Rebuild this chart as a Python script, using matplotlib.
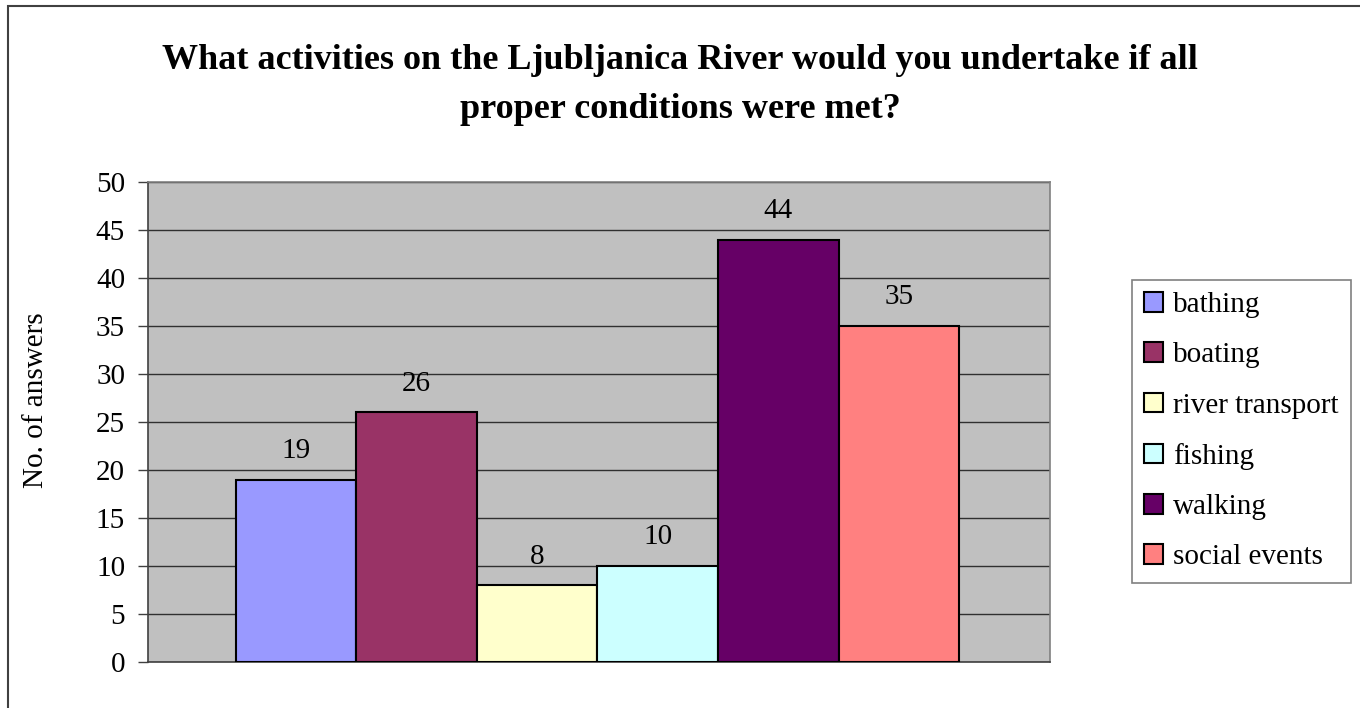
import matplotlib
matplotlib.use('Agg')
import matplotlib.pyplot as plt
from matplotlib.patches import Patch, Rectangle

# data
activities = ['bathing', 'boating', 'river transport', 'fishing', 'walking', 'social events']
answers = [19, 26, 8, 10, 44, 35]
colors = ['#9999FF', '#993366', '#FFFFCC', '#CCFFFF', '#660066', '#FF8080']
yticks = [0, 5, 10, 15, 20, 25, 30, 35, 40, 45, 50]

plt.rcParams['font.family'] = ['Liberation Serif', 'DejaVu Serif']

fig = plt.figure(figsize=(13.6, 7.08), dpi=100)
ax = fig.add_axes([148 / 1360, 46 / 708, 902 / 1360, 480 / 708])
ax.set_facecolor('#C0C0C0')

x = list(range(len(activities)))
bars = ax.bar(x, answers, width=1.0, color=colors, edgecolor='black', linewidth=1.5, zorder=3)
for xi, v in zip(x, answers):
    ax.text(xi, v + 2.25, str(v), ha='center', va='baseline', fontsize=21, zorder=4)

ax.set_xlim(-0.5 - 0.73, len(activities) - 0.5 + 0.755)
ax.set_ylim(0, 50)
ax.set_yticks(yticks)
ax.tick_params(axis='y', labelsize=21, length=7.5, width=1, direction='out', color='#404040', pad=9)
ax.set_xticks([])
ax.yaxis.grid(True, color='#303030', linewidth=1, zorder=1)
ax.set_axisbelow(True)
for s in ['top', 'right']:
    ax.spines[s].set_color('#808080')
    ax.spines[s].set_linewidth(1.2)
for s in ['left', 'bottom']:
    ax.spines[s].set_color('#404040')
    ax.spines[s].set_linewidth(1.2)

fig.text(36 / 1360, 1 - 400 / 708, 'No. of answers', rotation=90, ha='center', va='center', fontsize=21)

fig.text(0.5, 1 - 44 / 708, 'What activities on the Ljubljanica River would you undertake if all\nproper conditions were met?',
         ha='center', va='top', fontsize=26, fontweight='bold', linespacing=1.65)

handles = [Patch(facecolor=c, edgecolor='black', linewidth=1.5, label=a) for c, a in zip(colors, activities)]
leg = fig.legend(handles=handles, loc='upper left', bbox_to_anchor=(1132 / 1360, 1 - 280 / 708),
                 fontsize=21, frameon=True, fancybox=False, handlelength=0.65, handleheight=0.65,
                 handletextpad=0.34, labelspacing=0.83, borderpad=0.42, borderaxespad=0)
leg.get_frame().set_edgecolor('#606060')
leg.get_frame().set_linewidth(1.2)

# outer chart border (extends past the right and bottom edge)
fig.patches.append(Rectangle((8 / 1360, -0.2), 1.2, 1.2 - 6 / 708, transform=fig.transFigure,
                             fill=False, edgecolor='#404040', linewidth=1.5))

fig.savefig('out.png', dpi=100)
